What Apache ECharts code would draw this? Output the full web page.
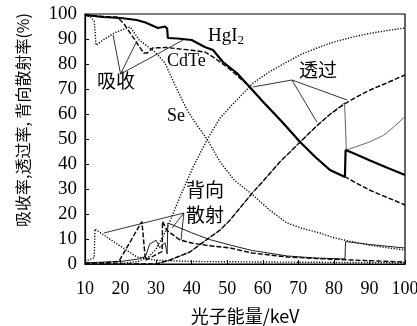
<!DOCTYPE html>
<html>
<head>
<meta charset="utf-8">
<script src="https://cdn.jsdelivr.net/npm/echarts@6/dist/echarts.min.js"></script>
<style>
  html, body { margin: 0; padding: 0; background: #fff; }
  #chart { width: 417px; height: 326px; }
</style>
</head>
<body>
<div id="chart"></div>
<script>
// Photon energy (keV) and response (%) for HgI2, CdTe and Se detectors.
// Absorption
const hgiAbsE = [10, 12, 15, 20, 24.5, 27, 30.5, 32.5, 33.1, 33.3, 36, 40, 43.7, 46, 48.8, 52.7, 55.8, 60, 65, 70.5, 75, 78.9, 83.1, 83.3, 86, 90, 95, 100];
const hgiAbsV = [99.5, 99.3, 98.8, 98.4, 97.6, 96.6, 94.4, 95.0, 94.2, 90.4, 90.2, 89.6, 86.8, 85.6, 80.8, 76.4, 71.6, 65.0, 57.5, 48.8, 42.5, 37.6, 34.8, 45.6, 44.0, 41.5, 38.5, 35.6];

const cdtAbsE = [10, 15, 19, 21, 24.6, 26.5, 27.5, 29, 31, 33, 36.7, 40, 43.7, 46, 50, 55.8, 60, 65, 70.5, 75, 78.9, 83, 86, 90, 95, 100];
const cdtAbsV = [99.5, 99.0, 98.8, 96.0, 88.4, 84.4, 84.4, 86.4, 86.5, 86.6, 86.0, 85.5, 84.8, 82.8, 78.8, 71.6, 65.0, 57.5, 48.8, 42.5, 37.6, 35.0, 32.6, 29.6, 26.6, 23.6];

const seAbsE = [10, 11.5, 12.6, 13.1, 15, 18.2, 21.8, 22.7, 25.3, 29.7, 32.5, 35.3, 38.7, 41.5, 44.3, 48, 52, 57.2, 62, 66.8, 71, 76, 80, 85.4, 90, 95, 100];
const seAbsV = [99.4, 99.0, 97.0, 87.5, 89.5, 92.4, 94.4, 94.8, 89.5, 84.8, 80.4, 71.6, 61.6, 55.6, 50.0, 40.8, 33.5, 27.6, 21.5, 16.4, 14.3, 12.4, 10.5, 8.8, 7.6, 6.5, 5.6];

// Transmission
const hgiTrE = [10, 30, 33.9, 36, 39.5, 44, 48, 50.8, 57.3, 60, 64.8, 70.5, 75, 79, 83, 83.5, 86, 90, 94, 97, 100];
const hgiTrV = [0, 0, 1.6, 2.8, 4.8, 9.5, 13.6, 17.6, 28.8, 33.0, 40.8, 48.8, 55.0, 60.0, 64.5, 45.6, 46.8, 48.8, 51.5, 55.0, 59.0];

const cdtTrE = [10, 30, 33.9, 36, 39.5, 44, 48, 50.8, 57.3, 60, 64.8, 70.5, 75, 79, 83, 86, 90, 95, 100];
const cdtTrV = [0, 0, 1.6, 2.8, 4.8, 9.5, 13.6, 17.6, 28.8, 33.0, 40.8, 48.8, 55.0, 60.0, 64.0, 66.5, 69.5, 72.5, 75.6];

const seTrE = [10, 20, 25, 28, 30, 33, 36.7, 40.4, 44.3, 48, 50.8, 57.3, 62, 66.8, 71, 76, 80, 85.4, 90, 95, 100];
const seTrV = [0, 0.2, 1.0, 3.0, 6.0, 14.0, 26.8, 38.8, 49.6, 58.4, 62.8, 72.4, 77.0, 80.8, 84.0, 86.8, 88.8, 90.8, 92.2, 93.4, 94.4];

// Backscatter (with fluorescence)
const hgiBsE = [10, 20, 25, 27, 28.2, 30, 31, 32.5, 33.1, 33.3, 40, 45, 50.8, 57, 67, 75, 83.1, 83.3, 90, 100];
const hgiBsV = [0.5, 1.0, 2.0, 3.0, 8.0, 9.5, 6.5, 8.5, 4.0, 16.4, 12.5, 9.8, 7.6, 5.4, 3.2, 2.4, 2.0, 9.0, 7.8, 6.4];

const cdtBsE = [10, 15, 19.5, 26, 27, 29, 31.7, 31.8, 33, 36.7, 40, 45, 50.8, 57, 67, 75, 85, 100];
const cdtBsV = [0.3, 0.5, 1.0, 17.0, 1.5, 3.0, 5.0, 17.0, 13.5, 9.6, 8.4, 7.3, 6.4, 4.4, 2.8, 2.2, 1.6, 0.8];

const seBsE = [10, 12.6, 12.8, 18, 24.6, 30, 40, 60, 100];
const seBsV = [1.0, 2.5, 14.0, 9.0, 2.8, 1.5, 1.0, 0.8, 0.5];

// Annotation arrows: [fromE, fromV, toE, toV]
const absArrows = [[20, 76, 17.9, 91.6], [20, 76, 24.3, 88.4], [20, 76, 37.6, 89.6]];
const trArrows = [[68.2, 73.6, 57.2, 70.8], [68.2, 73.6, 75.2, 56.8], [68.2, 73.6, 83.7, 65.6]];
const bsArrows = [[37.8, 20.4, 15.3, 12.4], [37.8, 20.4, 34.5, 14.4], [37.8, 20.4, 37.0, 9.6]];

const xTicks = [10, 20, 30, 40, 50, 60, 70, 80, 90, 100];
const yTicks = [0, 10, 20, 30, 40, 50, 60, 70, 80, 90, 100];

const zip = (xs, ys) => xs.map((x, i) => [x, ys[i]]);

const serifNum = 'Liberation Serif';
const cjk = 'Noto Sans CJK SC';

function curve(name, xs, ys, style) {
  return {
    name: name,
    type: 'line',
    data: zip(xs, ys),
    showSymbol: false,
    symbol: 'none',
    smooth: false,
    silent: true,
    animation: false,
    lineStyle: style,
    z: style.z || 2
  };
}

function arrowSeries(list) {
  return {
    type: 'line',
    data: [],
    silent: true,
    animation: false,
    markLine: {
      silent: true,
      animation: false,
      symbol: ['none', 'arrow'],
      symbolSize: [0, 7],
      label: { show: false },
      lineStyle: { color: '#000', width: 0.8, type: 'solid' },
      data: list.map(a => [{ coord: [a[0], a[1]] }, { coord: [a[2], a[3]] }])
    }
  };
}

const chart = echarts.init(document.getElementById('chart'), null, { renderer: 'canvas' });

const solidThick = { color: '#000', width: 2.2, type: 'solid', z: 4 };
const dashed = { color: '#000', width: 1.4, type: [5, 2], z: 3 };
const dotted = { color: '#000', width: 1.4, type: [1.2, 1.6], z: 2 };
const thinGray = { color: '#666', width: 1, type: 'solid', z: 2 };
const thinBlack = { color: '#222', width: 1, type: 'solid', z: 2 };

chart.setOption({
  animation: false,
  backgroundColor: '#fff',
  grid: { left: 85, right: 12, top: 14, bottom: 62, show: true, borderColor: '#000', borderWidth: 1.2,
    containLabel: false, outerBoundsMode: 'none' },
  xAxis: {
    type: 'value', min: 10, max: 100, interval: 10,
    axisLine: { show: true, lineStyle: { color: '#000', width: 1.2 } },
    axisTick: { show: true, inside: true, length: 4, lineStyle: { color: '#000' } },
    splitLine: { show: false },
    axisLabel: { color: '#000', fontFamily: serifNum, fontSize: 18, margin: 16,
      formatter: v => xTicks.includes(v) ? String(v) : '' },
    name: '光子能量/keV', nameLocation: 'middle', nameGap: 43,
    nameTextStyle: { color: '#000', fontFamily: cjk, fontSize: 18 }
  },
  yAxis: {
    type: 'value', min: 0, max: 100, interval: 10,
    axisLine: { show: true, lineStyle: { color: '#000', width: 1.2 } },
    axisTick: { show: true, inside: true, length: 4, lineStyle: { color: '#000' } },
    splitLine: { show: false },
    axisLabel: { color: '#000', fontFamily: serifNum, fontSize: 19, margin: 8,
      formatter: v => yTicks.includes(v) ? String(v) : '' },
    name: '吸收率,透过率, 背向散射率(%)', nameLocation: 'middle', nameGap: 54, nameRotate: 90,
    nameTextStyle: { color: '#000', fontFamily: cjk, fontSize: 16, padding: [0, 0, 0, 38] }
  },
  series: [
    curve('Se吸收', seAbsE, seAbsV, dotted),
    curve('Se透过', seTrE, seTrV, dotted),
    curve('Se背向散射', seBsE, seBsV, dotted),
    curve('HgI2透过', hgiTrE, hgiTrV, thinGray),
    curve('HgI2背向散射', hgiBsE, hgiBsV, thinBlack),
    curve('CdTe吸收', cdtAbsE, cdtAbsV, dashed),
    curve('CdTe透过', cdtTrE, cdtTrV, dashed),
    curve('CdTe背向散射', cdtBsE, cdtBsV, dashed),
    curve('HgI2吸收', hgiAbsE, hgiAbsV, solidThick),
    arrowSeries(absArrows),
    arrowSeries(trArrows),
    arrowSeries(bsArrows)
  ],
  graphic: [
    { type: 'text', left: 208, top: 27, silent: true,
      style: { text: 'HgI{s|2}', fill: '#000', font: '19px "Liberation Serif"',
        rich: { s: { fontSize: 13, fontFamily: serifNum, padding: [9, 0, 0, 0] } } } },
    { type: 'text', left: 167, top: 52, silent: true,
      style: { text: 'CdTe', fill: '#000', font: '18px "Liberation Serif"' } },
    { type: 'text', left: 167, top: 107, silent: true,
      style: { text: 'Se', fill: '#000', font: '18px "Liberation Serif"' } },
    { type: 'text', left: 97, top: 71, silent: true,
      style: { text: '吸收', fill: '#000', font: '19px "Noto Sans CJK SC"' } },
    { type: 'text', left: 299, top: 60, silent: true,
      style: { text: '透过', fill: '#000', font: '19px "Noto Sans CJK SC"' } },
    { type: 'text', left: 186, top: 177, silent: true,
      style: { text: '背向\n散射', fill: '#000', font: '19px "Noto Sans CJK SC"', lineHeight: 25 } }
  ]
});
</script>
</body>
</html>
